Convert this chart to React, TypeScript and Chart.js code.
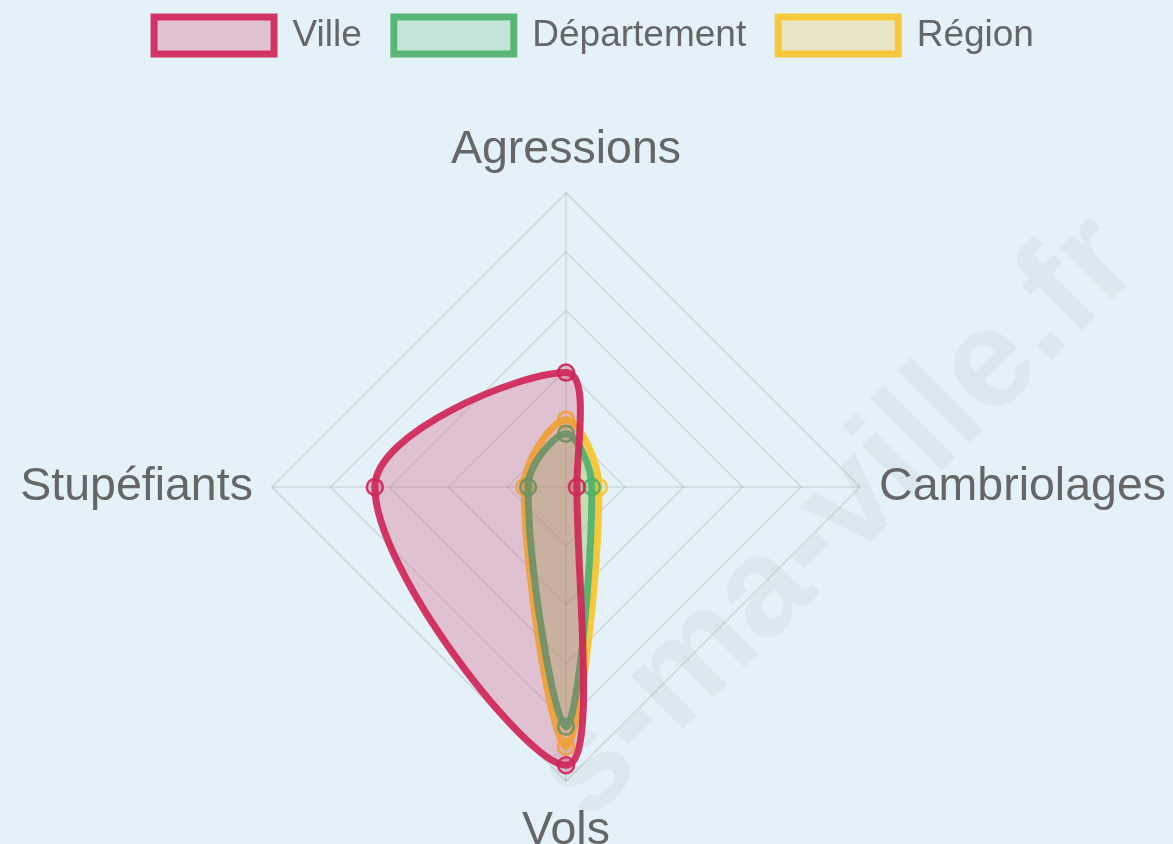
import { useEffect, useRef } from "react";
import { Chart, registerables } from "chart.js";

Chart.register(...registerables);

const categories = ["Agressions", "Cambriolages", "Vols", "Stupéfiants"];
const seriesNames = ["Ville", "Département", "Région"];
const villeValues = [0.389, 0.037, 0.946, 0.65];
const departementValues = [0.181, 0.088, 0.815, 0.129];
const regionValues = [0.229, 0.112, 0.883, 0.142];

const borderColors = ["rgba(207,38,88,0.92)", "rgba(76,176,104,0.9)", "rgba(248,196,40,0.9)"];
const fillColors = ["rgba(207,40,90,0.24)", "rgba(82,180,110,0.22)", "rgba(247,197,44,0.24)"];
const labelPaddings = [15, 19, 22, 19];

export default function App() {
  const canvasRef = useRef<HTMLCanvasElement | null>(null);

  useEffect(() => {
    const canvas = canvasRef.current;
    if (!canvas) return;
    const values = [villeValues, departementValues, regionValues];
    const chart = new Chart(canvas, {
      type: "radar",
      data: {
        labels: categories,
        datasets: seriesNames.map((name, i) => ({
          label: name,
          data: values[i],
          borderColor: borderColors[i],
          backgroundColor: fillColors[i],
          borderWidth: 7,
          fill: true,
          tension: 0.35,
          pointRadius: 8,
          pointBorderWidth: 2.5,
          pointBorderColor: borderColors[i],
          pointBackgroundColor: fillColors[i],
        })),
      },
      options: {
        responsive: false,
        animation: false,
        plugins: {
          legend: {
            position: "top",
            labels: {
              boxWidth: 120,
              boxHeight: 37,
              padding: 32,
              color: "#666",
              font: { family: "'Liberation Sans', Arial, sans-serif", size: 37 },
            },
          },
          tooltip: { enabled: false },
        },
        scales: {
          r: {
            min: 0,
            max: 1,
            ticks: { display: false, stepSize: 0.2 },
            grid: { color: "rgba(0,0,0,0.1)", lineWidth: 1.5 },
            angleLines: { color: "rgba(0,0,0,0.1)", lineWidth: 1.5 },
            pointLabels: {
              color: "#666",
              padding: (ctx: any) => labelPaddings[ctx.index] ?? 19,
              font: { family: "'Liberation Sans', Arial, sans-serif", size: 46.5 },
            },
          },
        },
      },
    });
    return () => chart.destroy();
  }, []);

  return (
    <div
      style={{
        position: "fixed",
        left: 0,
        top: 0,
        width: 1173,
        height: 844,
        overflow: "hidden",
        background: "#e4f1f8",
      }}
    >
      <div
        style={{
          position: "absolute",
          left: 832,
          top: 512,
          transform: "translate(-50%, -50%) rotate(-45deg)",
          whiteSpace: "nowrap",
          fontFamily: "'Liberation Sans', Arial, sans-serif",
          fontWeight: "bold",
          fontSize: 140,
          color: "#dce8ef",
          userSelect: "none",
        }}
      >
        s-ma-ville.fr
      </div>
      <canvas
        ref={canvasRef}
        width={1200}
        height={932}
        style={{ position: "absolute", left: -6, top: -15, width: 1200, height: 932 }}
      />
    </div>
  );
}
